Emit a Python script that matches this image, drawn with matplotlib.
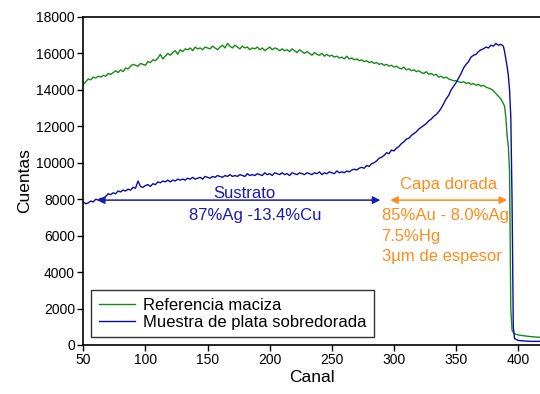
import numpy as np
import matplotlib
matplotlib.use("Agg")
import matplotlib.pyplot as plt

plt.rcParams['font.family'] = ['Liberation Sans', 'DejaVu Sans']

# ---------------------------
# Data
# ---------------------------

# channels 50..388 every 2, then the edge and the tail
canal = list(range(50, 389, 2)) + [389, 390, 391, 392, 393, 394, 395, 396,
                                   397, 400, 405, 410, 415, 420]

referencia = [
    14300, 14450, 14600, 14550, 14700, 14650, 14750, 14700, 14800, 14750,
    14900, 14850, 14950, 15050, 14950, 15100, 15000, 15200, 15150, 15300,
    15400, 15350, 15300, 15450, 15400, 15350, 15550, 15500, 15650, 15600,
    15750, 15950, 15700, 15850, 16000, 15900, 16050, 16150, 15950, 16200,
    16100, 16250, 16200, 16300, 16150, 16350, 16250, 16300, 16200, 16350,
    16300, 16250, 16400, 16300, 16200, 16350, 16450, 16300, 16550, 16400,
    16300, 16450, 16350, 16250, 16400, 16300, 16350, 16200, 16300, 16250,
    16350, 16200, 16300, 16150, 16250, 16350, 16200, 16300, 16250, 16150,
    16250, 16150, 16200, 16100, 16250, 16150, 16050, 16200, 16100, 16000,
    16100, 16000, 15900, 16050, 15950, 15900, 16000, 15850, 15950, 15850,
    15900, 15800, 15850, 15750, 15800, 15700, 15850, 15700, 15750, 15650,
    15700, 15600, 15650, 15550, 15600, 15500, 15550, 15450, 15500, 15400,
    15450, 15350, 15400, 15300, 15350, 15250, 15300, 15200, 15150, 15250,
    15100, 15150, 15050, 15100, 15000, 15050, 14950, 14900, 15000, 14850,
    14900, 14800, 14850, 14700, 14750, 14650, 14700, 14600, 14550, 14500,
    14500, 14450, 14400, 14450, 14350, 14400, 14300, 14350, 14250, 14300,
    14200, 14250, 14150, 14100, 14050, 13950, 13800, 13650, 13500, 13250,
    13100, 12500, 11500, 10900, 9500, 2000, 800, 700, 620,
    550, 500, 460, 430, 410]

muestra = [
    7850, 7750, 7800, 7900, 7850, 8000, 7950, 8050, 8000, 8150,
    8300, 8250, 8350, 8300, 8450, 8400, 8500, 8450, 8550, 8500,
    8650, 8600, 9000, 8700, 8650, 8750, 8800, 8700, 8850, 8800,
    8950, 8900, 9000, 8950, 9050, 8950, 9050, 9000, 9100, 9050,
    9100, 9050, 9150, 9100, 9200, 9100, 9150, 9200, 9100, 9250,
    9200, 9150, 9250, 9200, 9300, 9250, 9200, 9300, 9250, 9350,
    9250, 9300, 9250, 9350, 9300, 9250, 9400, 9300, 9350, 9300,
    9400, 9350, 9300, 9450, 9350, 9400, 9300, 9450, 9400, 9350,
    9450, 9350, 9400, 9300, 9450, 9400, 9350, 9450, 9400, 9350,
    9450, 9400, 9350, 9450, 9400, 9500, 9350, 9450, 9400, 9500,
    9450, 9400, 9550, 9450, 9500, 9450, 9550, 9500, 9600, 9650,
    9600, 9700, 9750, 9700, 9850, 9800, 9950, 10000, 10100, 10250,
    10300, 10400, 10550, 10500, 10700, 10650, 10800, 10900, 11050, 11150,
    11300, 11350, 11500, 11600, 11700, 11850, 11950, 12050, 12150, 12300,
    12400, 12550, 12650, 12800, 13000, 13250, 13500, 13700, 14000, 14200,
    14400, 14650, 14900, 15200, 15400, 15550, 15800, 15900, 15950, 16100,
    16200, 16250, 16350, 16300, 16450, 16400, 16550, 16450, 16500, 16400,
    16100, 15700, 15300, 14800, 14000, 12500, 8000, 1000, 350,
    250, 220, 200, 200, 200]

# ---------------------------
# Plot
# ---------------------------

fig = plt.figure(figsize=(5.4, 3.94), dpi=100)
ax = fig.add_axes([0.1543, 0.1244, 0.8457, 0.8325])

ax.plot(canal, referencia, color='#168a16', lw=1.0, label='Referencia maciza')
ax.plot(canal, muestra, color='#0b0ba8', lw=1.0,
        label='Muestra de plata sobredorada')

ax.set_xlim(50, 417.5)
ax.set_ylim(0, 18000)
ax.set_xticks([50, 100, 150, 200, 250, 300, 350, 400])
ax.set_yticks(np.arange(0, 18001, 2000))
ax.tick_params(axis='both', direction='out', length=4, width=1,
               labelsize=10, pad=2)
ax.spines['right'].set_visible(False)
for s in ['left', 'bottom', 'top']:
    ax.spines[s].set_linewidth(1.2)

ax.set_xlabel('Canal', fontsize=12.5, labelpad=2)
ax.set_ylabel('Cuentas', fontsize=12.5, labelpad=3)

# annotations
blue = '#1a1ab0'
orange = '#ff8c1a'
ax.annotate('', xy=(61, 7950), xytext=(289, 7950),
            arrowprops=dict(arrowstyle='<|-|>', color=blue, lw=1.1,
                            mutation_scale=11, shrinkA=0, shrinkB=0))
ax.text(180, 8320, 'Sustrato', color=blue, fontsize=12,
        ha='center', va='center')
ax.text(188, 7080, '87%Ag -13.4%Cu', color=blue, fontsize=12,
        ha='center', va='center')

ax.annotate('', xy=(297, 7950), xytext=(391, 7950),
            arrowprops=dict(arrowstyle='<|-|>', color=orange, lw=1.1,
                            mutation_scale=11, shrinkA=0, shrinkB=0))
ax.text(344, 8800, 'Capa dorada', color=orange, fontsize=12,
        ha='center', va='center')
ax.text(290, 7080, '85%Au - 8.0%Ag', color=orange, fontsize=12,
        ha='left', va='center')
ax.text(290, 5980, '7.5%Hg', color=orange, fontsize=12,
        ha='left', va='center')
ax.text(290, 4880, '3µm de espesor', color=orange, fontsize=12,
        ha='left', va='center')

leg = ax.legend(loc='lower left', bbox_to_anchor=(0.017, 0.024), fontsize=12,
                frameon=True, fancybox=False, edgecolor='black',
                handlelength=2.2, borderpad=0.45, labelspacing=0.1,
                handletextpad=0.45, borderaxespad=0)
leg.get_frame().set_linewidth(1.0)

plt.savefig("out.png", dpi=100)
